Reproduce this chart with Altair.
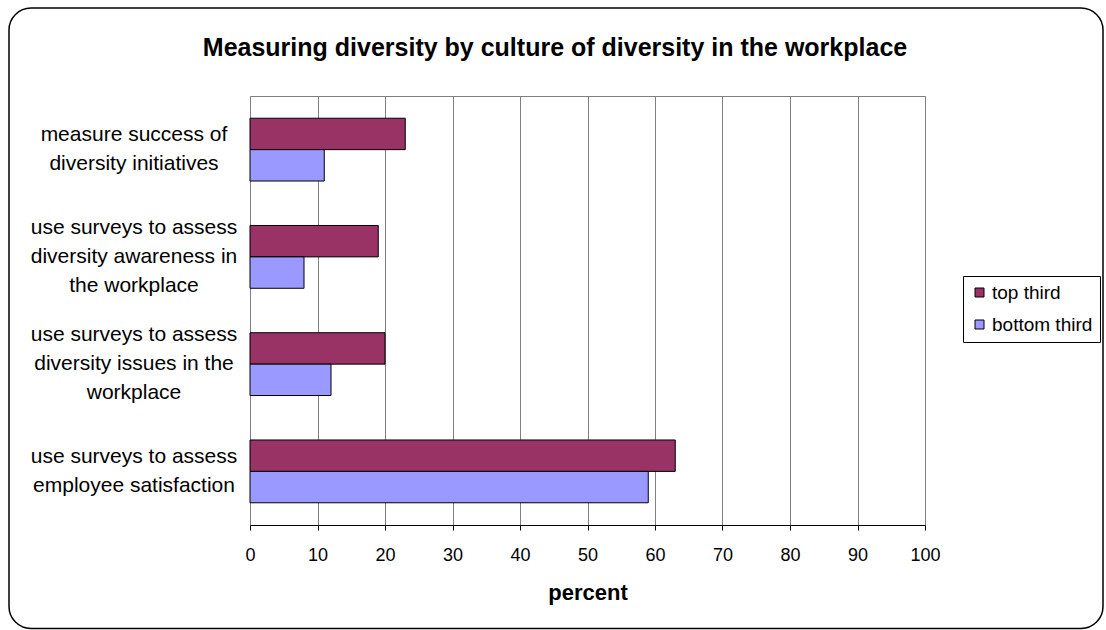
import altair as alt
import pandas as pd

categories = [
    "measure success of\ndiversity initiatives",
    "use surveys to assess\ndiversity awareness in\nthe workplace",
    "use surveys to assess\ndiversity issues in the\nworkplace",
    "use surveys to assess\nemployee satisfaction",
]
series = ["top third", "bottom third"]
top_third = [23, 19, 20, 63]
bottom_third = [11, 8, 12, 59]
colors = ["#993366", "#9999FF"]
x_ticks = [0, 10, 20, 30, 40, 50, 60, 70, 80, 90, 100]
title_text = "Measuring diversity by culture of diversity in the workplace"
x_title = "percent"

rows = []
for c, t, b in zip(categories, top_third, bottom_third):
    rows.append({"category": c, "series": series[0], "percent": t})
    rows.append({"category": c, "series": series[1], "percent": b})
df = pd.DataFrame(rows)
cat_df = pd.DataFrame({"category": categories})

FONT = "Liberation Sans"
LINE_H = 29

y_enc_axis = alt.Y(
    "category:N", sort=categories,
    scale=alt.Scale(paddingInner=0, paddingOuter=0),
    axis=alt.Axis(
        title=None, tickBand="extent", labels=False,
        tickSize=7, tickColor="black", domainColor="black", grid=False,
    ),
)

bars = alt.Chart(df).mark_bar(stroke="black", strokeWidth=1).encode(
    x=alt.X(
        "percent:Q",
        scale=alt.Scale(domain=[0, 100], nice=False),
        axis=alt.Axis(
            values=x_ticks, title=x_title, grid=True, gridColor="#808080", gridWidth=1,
            domainColor="black", tickColor="black", tickSize=5, labelFlush=False,
            labelFontSize=18, labelPadding=16, labelColor="black", labelFont=FONT,
            titleFontSize=22, titleFontWeight="bold", titlePadding=18, titleColor="black",
            titleFont=FONT,
        ),
    ),
    y=y_enc_axis,
    yOffset=alt.YOffset("series:N", sort=series,
                        scale=alt.Scale(domain=series, paddingInner=0, paddingOuter=0.708)),
    color=alt.Color(
        "series:N", sort=series,
        scale=alt.Scale(domain=series, range=colors),
        legend=alt.Legend(
            title=None, orient="none", legendX=713, legendY=180,
            strokeColor="black", padding=7, fillColor="white",
            symbolType="square", symbolSize=81, symbolStrokeColor="black",
            symbolStrokeWidth=1, labelFontSize=19, labelFont=FONT, labelColor="black",
            rowPadding=12, labelOffset=3,
        ),
    ),
)


def label_layer(n_lines):
    return alt.Chart(cat_df).transform_filter(
        f"length(split(datum.category, '\\n')) == {n_lines}"
    ).mark_text(
        font=FONT, fontSize=21, color="black", align="center", baseline="middle",
        lineBreak="\n", lineHeight=LINE_H, dy=-(n_lines - 1) * LINE_H / 2,
    ).encode(
        text="category:N",
        y=alt.Y("category:N", sort=categories, axis=None),
        x=alt.value(-116),
    )


frame = alt.Chart(pd.DataFrame({"f": [0]})).mark_rect(
    filled=False, stroke="black", strokeWidth=1.5, cornerRadius=22
).encode(
    x=alt.value(-241), x2=alt.value(853), y=alt.value(-88), y2=alt.value(532.5)
)

title_layer = alt.Chart(pd.DataFrame({"t": [title_text]})).mark_text(
    font=FONT, fontSize=25, fontWeight="bold", color="black",
    align="center", baseline="middle",
).encode(text="t:N", x=alt.value(305), y=alt.value(-48))

chart = alt.layer(frame, bars, label_layer(2), label_layer(3), title_layer).properties(
    width=675, height=429,
    padding={"left": 250, "top": 96, "right": 181, "bottom": 105},
    autosize=alt.AutoSizeParams(type="none"),
    background="white",
).configure(font=FONT).configure_view(stroke="#808080", strokeWidth=1)

chart.save("out.html", embed_options={"renderer": "svg", "actions": False})
